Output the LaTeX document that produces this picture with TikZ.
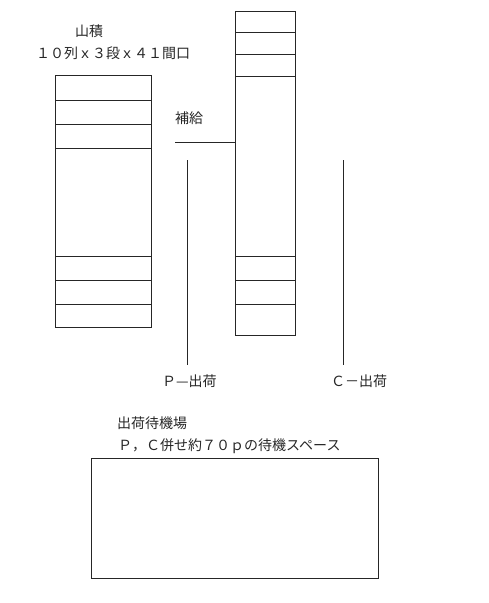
\documentclass[tikz,border=0pt]{standalone}
\usepackage{fontspec}
\newfontfamily\jp{Noto Sans CJK JP}
\tikzset{
  ln/.style={line width=0.9pt, black!85},
  lbl/.style={inner sep=0pt, anchor=west, font=\jp\fontsize{14}{16}\selectfont, text=black!85},
}
\begin{document}
\begin{tikzpicture}[x=1pt,y=-1pt]
\useasboundingbox (0,0) rectangle (488,603);
% left rack
\draw[ln] (55.7,75.7) rectangle (151.7,327.7);
\foreach \y in {100,124,148,256,280,304} \draw[ln] (55.7,\y) -- (151.7,\y);
% right rack
\draw[ln] (235.7,11.7) rectangle (295.3,335);
\foreach \y in {32,54,76,256,280,304} \draw[ln] (235.7,\y) -- (295.3,\y);
% supply line
\coordinate (s0) at (175,142);
\coordinate (s1) at (235.7,142);
\draw[ln] (s0) -- (s1);
% P and C lines
\coordinate (p0) at (187.3,160);
\coordinate (p1) at (187.3,365);
\coordinate (c0) at (343.5,160);
\coordinate (c1) at (343.5,365);
\draw[ln] (p0) -- (p1);
\draw[ln] (c0) -- (c1);
% bottom box
\draw[ln] (91,458.3) rectangle (378.3,578.3);
% labels
\node[lbl] (t1) at (75,31) {山積};
\node[lbl] (t2) at (36,53) {１０列ｘ３段ｘ４１間口};
\node[lbl] (t3) at (175,118) {補給};
\node[lbl] (t4) at (162,381) {Ｐ—出荷};
\node[lbl] (t5) at (331,381) {Ｃ－出荷};
\node[lbl] (t6) at (117,423) {出荷待機場};
\node[lbl] (t7) at (118,446) {Ｐ，Ｃ併せ約７０ｐの待機スペース};
\end{tikzpicture}
\end{document}
